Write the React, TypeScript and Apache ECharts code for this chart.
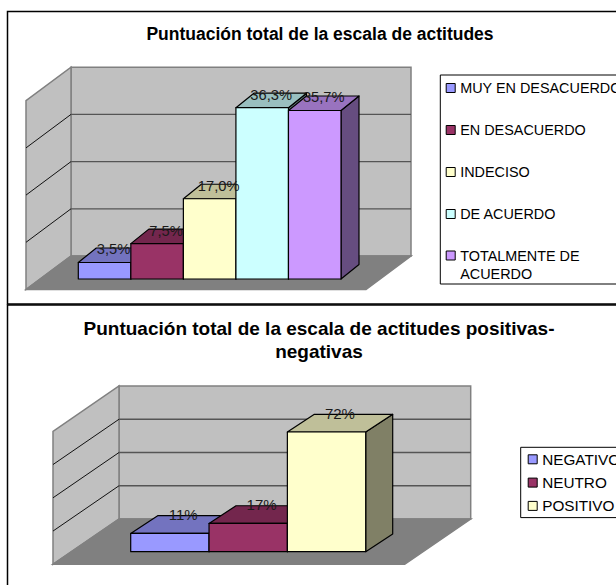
import React, { useEffect, useRef } from "react";
import * as echarts from "echarts";

const FONT = "Liberation Sans";

const titleTop = "Puntuación total de la escala de actitudes";
const categoriesTop = ["MUY EN DESACUERDO", "EN DESACUERDO", "INDECISO", "DE ACUERDO", "TOTALMENTE DE\nACUERDO"];
const valuesTop = [3.5, 7.5, 17.0, 36.3, 35.7];
const labelsTop = ["3,5%", "7,5%", "17,0%", "36,3%", "35,7%"];
const ticksTop = [10, 20, 30];
const maxTop = 40;

const titleBottom = "Puntuación total de la escala de actitudes positivas-\nnegativas";
const categoriesBottom = ["NEGATIVO", "NEUTRO", "POSITIVO"];
const valuesBottom = [11, 17, 72];
const labelsBottom = ["11%", "17%", "72%"];
const ticksBottom = [20, 40, 60];
const maxBottom = 80;

const colors = ["#9999FF", "#993366", "#FFFFCC", "#CCFFFF", "#CC99FF"];

function shade(hex: string, f: number) {
  const n = parseInt(hex.slice(1), 16);
  const c = [(n >> 16) & 255, (n >> 8) & 255, n & 255].map((v) => Math.round(v * f));
  return `rgb(${c[0]},${c[1]},${c[2]})`;
}

type Geo = {
  gridIndex: number;
  count: number;
  max: number;
  backL: number;
  backR: number;
  backDy: number;
  frontDx: number;
  frontDy: number;
  barDx: number;
  barDy: number;
  labelDx: number;
  labelDy: number;
  labelSize: number;
};

function wallSeries(g: Geo, ticks: number[]) {
  return {
    type: "custom",
    silent: true,
    xAxisIndex: g.gridIndex,
    yAxisIndex: g.gridIndex,
    clip: false,
    data: ticks.map((t) => [0, t]),
    encode: { x: 0, y: 1 },
    renderItem: (params: any, api: any) => {
      const band = api.size([1, 0])[0];
      const first = api.coord([0, 0]);
      const last = api.coord([g.count - 1, 0]);
      const xL = first[0] - band / 2;
      const xR = last[0] + band / 2;
      const y0 = first[1];
      const yT = api.coord([0, g.max])[1];
      const bl = xL + g.backL;
      const br = xR + g.backR;
      const by = y0 + g.backDy;
      const byT = yT + g.backDy;
      const v = api.coord([0, api.value(1)])[1] + g.backDy;
      const grid = [
        {
          type: "line",
          shape: { x1: bl, y1: v, x2: br, y2: v },
          style: { stroke: "#555555", lineWidth: 1.3 },
        },
        {
          type: "line",
          shape: { x1: bl, y1: v, x2: bl + g.frontDx, y2: v + g.frontDy },
          style: { stroke: "#111111", lineWidth: 1 },
        },
      ];
      if (params.dataIndex !== 0) return { type: "group", children: grid };
      const edge = { stroke: "#808080", lineWidth: 1.5 };
      return {
        type: "group",
        children: [
          {
            type: "polygon",
            shape: { points: [[bl, byT], [br, byT], [br, by], [bl, by]] },
            style: { fill: "#C0C0C0", ...edge },
          },
          {
            type: "polygon",
            shape: { points: [[bl, byT], [bl, by], [bl + g.frontDx, by + g.frontDy], [bl + g.frontDx, byT + g.frontDy]] },
            style: { fill: "#C0C0C0", ...edge },
          },
          {
            type: "polygon",
            shape: { points: [[bl, by], [br, by], [br + g.frontDx, by + g.frontDy], [bl + g.frontDx, by + g.frontDy]] },
            style: { fill: "#808080", ...edge },
          },
          ...grid,
        ],
      };
    },
  };
}

function barSeries(g: Geo, name: string, index: number, value: number, label: string) {
  const color = colors[index];
  return {
    type: "custom",
    name,
    silent: true,
    xAxisIndex: g.gridIndex,
    yAxisIndex: g.gridIndex,
    clip: false,
    itemStyle: { color },
    data: [[index, value]],
    encode: { x: 0, y: 1 },
    renderItem: (_: any, api: any) => {
      const top = api.coord([api.value(0), api.value(1)]);
      const base = api.coord([api.value(0), 0]);
      const w = api.size([1, 0])[0];
      const l = top[0] - w / 2;
      const r = top[0] + w / 2;
      const line = { stroke: "#000000", lineWidth: 1.2, lineJoin: "round" };
      return {
        type: "group",
        children: [
          {
            type: "polygon",
            shape: { points: [[r, top[1]], [r + g.barDx, top[1] - g.barDy], [r + g.barDx, base[1] - g.barDy], [r, base[1]]] },
            style: { fill: shade(color, 0.5), ...line },
          },
          {
            type: "polygon",
            shape: { points: [[l, top[1]], [l + g.barDx, top[1] - g.barDy], [r + g.barDx, top[1] - g.barDy], [r, top[1]]] },
            style: { fill: shade(color, 0.75), ...line },
          },
          {
            type: "rect",
            shape: { x: l, y: top[1], width: w, height: base[1] - top[1] },
            style: { fill: color, ...line },
          },
          {
            type: "text",
            z2: 100,
            style: {
              text: label,
              x: top[0] + g.labelDx,
              y: top[1] + g.labelDy,
              align: "center",
              verticalAlign: "middle",
              fontFamily: FONT,
              fontSize: g.labelSize,
              fill: "#1a1a1a",
            },
          },
        ],
      };
    },
  };
}

const geoTop: Geo = {
  gridIndex: 0, count: 5, max: maxTop, backL: -7.3, backR: 70, backDy: -23,
  frontDx: -45, frontDy: 33.5, barDx: 18, barDy: 14.5, labelDx: 9, labelDy: -13, labelSize: 14.7,
};
const geoBottom: Geo = {
  gridIndex: 1, count: 3, max: maxBottom, backL: -11.7, backR: 105, backDy: -32.7,
  frontDx: -66, frontDy: 45.3, barDx: 27, barDy: 17.7, labelDx: 13.4, labelDy: -18.5, labelSize: 15,
};

const legendBase = {
  orient: "vertical",
  icon: "rect",
  itemWidth: 9,
  itemHeight: 9,
  selectedMode: false,
  itemStyle: { borderColor: "#000000", borderWidth: 1 },
};
const boxed = { borderColor: "#000000", borderWidth: 1, backgroundColor: "#ffffff" };

function buildOption() {
  const axisOff = { show: false };
  const lastTop = categoriesTop.length - 1;
  return {
    animation: false,
    backgroundColor: "#ffffff",
    title: [
      {
        text: titleTop,
        left: 320,
        top: 25,
        textAlign: "center",
        padding: 0,
        textStyle: { fontFamily: FONT, fontSize: 17.5, fontWeight: "bold", color: "#000" },
      },
      {
        text: titleBottom,
        left: 319,
        top: 316.5,
        textAlign: "center",
        padding: 0,
        textStyle: { fontFamily: FONT, fontSize: 19, fontWeight: "bold", color: "#000", lineHeight: 23 },
      },
    ],
    grid: [
      { left: 78.3, top: 90.2, width: 262.7, height: 188.8 },
      { left: 130.7, top: 418.7, width: 235, height: 133 },
    ],
    xAxis: [
      { type: "category", gridIndex: 0, data: categoriesTop, ...axisOff },
      { type: "category", gridIndex: 1, data: categoriesBottom, ...axisOff },
    ],
    yAxis: [
      { type: "value", gridIndex: 0, min: 0, max: maxTop, interval: 10, ...axisOff },
      { type: "value", gridIndex: 1, min: 0, max: maxBottom, interval: 20, ...axisOff },
    ],
    legend: [
      {
        ...legendBase,
        ...boxed,
        left: 440.3,
        top: 75,
        padding: [6, 20, 63, 5.4],
        itemGap: 28,
        textStyle: { fontFamily: FONT, fontSize: 14.4, color: "#000", lineHeight: 14 },
        data: categoriesTop.slice(0, lastTop),
      },
      {
        ...legendBase,
        left: 440.3,
        top: 228.5,
        padding: [0, 0, 0, 5.4],
        formatter: (name: string) => "\n" + name,
        textStyle: { fontFamily: FONT, fontSize: 14.4, color: "#000", lineHeight: 18 },
        data: [categoriesTop[lastTop]],
      },
      {
        ...legendBase,
        ...boxed,
        left: 520.7,
        top: 447.3,
        padding: [4.5, 20, 4.2, 7],
        itemGap: 8.3,
        textStyle: { fontFamily: FONT, fontSize: 15.3, color: "#000", lineHeight: 15 },
        data: categoriesBottom,
      },
    ],
    graphic: [
      {
        type: "rect",
        z: -1,
        shape: { x: 7.5, y: 11.5, width: 800, height: 292.5 },
        style: { fill: "#ffffff", stroke: "#000000", lineWidth: 1.5 },
      },
      {
        type: "rect",
        z: -1,
        shape: { x: 7.5, y: 305, width: 800, height: 400 },
        style: { fill: "#ffffff", stroke: "#000000", lineWidth: 1.5 },
      },
    ],
    series: [
      wallSeries(geoTop, ticksTop),
      ...categoriesTop.map((c, i) => barSeries(geoTop, c, i, valuesTop[i], labelsTop[i])),
      wallSeries(geoBottom, ticksBottom),
      ...categoriesBottom.map((c, i) => barSeries(geoBottom, c, i, valuesBottom[i], labelsBottom[i])),
    ],
  };
}

export default function App() {
  const ref = useRef<HTMLDivElement>(null);
  useEffect(() => {
    const chart = echarts.init(ref.current!, undefined, { renderer: "svg" });
    chart.setOption(buildOption() as any);
    return () => chart.dispose();
  }, []);
  return (
    <div
      ref={ref}
      style={{ position: "absolute", left: 0, top: 0, width: 616, height: 585, overflow: "hidden" }}
    />
  );
}
